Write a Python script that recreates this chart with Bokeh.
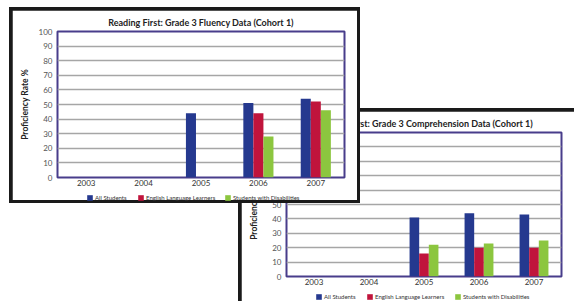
import numpy as np
from bokeh.plotting import figure
from bokeh.models import (ColumnDataSource, Range1d, FixedTicker, Legend,
                          LegendItem, Div)
from bokeh.layouts import column
from bokeh.transform import dodge
from bokeh.embed import file_html
from bokeh.resources import INLINE

nan = float("nan")

# ---- data ----
years = ["2003", "2004", "2005", "2006", "2007"]
series_names = ["All Students", "English Language Learners", "Students with Disabilities"]
series_colors = ["#25398f", "#c0143c", "#8cc63f"]

fluency_title = "Reading First: Grade 3 Fluency Data (Cohort 1)"
fluency_all = [nan, nan, 44, 51, 54]
fluency_ell = [nan, nan, nan, 44, 52]
fluency_swd = [nan, nan, nan, 28, 46]

comp_title = "Reading First: Grade 3 Comprehension Data (Cohort 1)"
comp_all = [nan, nan, 41, 44, 43]
comp_ell = [nan, nan, 16, 20, 20]
comp_swd = [nan, nan, 22, 23, 25]

y_ticks = [0, 10, 20, 30, 40, 50, 60, 70, 80, 90, 100]
y_label = "Proficiency Rate %"

FONT = "Lato"
COLS = ["all", "ell", "swd"]


def abs_style(x, y, w, h, z, extra=None):
    s = {"position": "absolute", "left": f"{x}px", "top": f"{y}px",
         "width": f"{w}px", "height": f"{h}px", "z-index": str(z)}
    if extra:
        s.update(extra)
    return s


def make_source(s_all, s_ell, s_swd):
    return ColumnDataSource(dict(
        year=years,
        all=np.array(s_all, dtype=float),
        ell=np.array(s_ell, dtype=float),
        swd=np.array(s_swd, dtype=float),
    ))


def make_chart(title, src, width, height, borders, pos, z):
    left, right, top, bottom = borders
    p = figure(x_range=years, y_range=Range1d(0, 100), width=width, height=height,
               sizing_mode="fixed",
               toolbar_location=None, output_backend="svg",
               min_border_left=left, min_border_right=right,
               min_border_top=top, min_border_bottom=bottom, margin=0,
               background_fill_color="white", border_fill_color="white",
               styles=abs_style(pos[0], pos[1], width, height, z))
    offsets = [-0.175, 0.0, 0.175]
    for col, off, color in zip(COLS, offsets, series_colors):
        p.vbar(x=dodge("year", off, range=p.x_range), top=col, width=0.175,
               source=src, fill_color=color, line_color=None)

    p.title.text = title
    p.title.align = "center"
    p.title.text_font = FONT
    p.title.text_font_size = "9px"
    p.title.text_font_style = "bold"
    p.title.text_color = "#222222"
    p.title.standoff = 8

    p.outline_line_color = "#483d8b"
    p.outline_line_width = 2
    p.outline_line_alpha = 1

    p.xgrid.grid_line_color = None
    p.ygrid.ticker = FixedTicker(ticks=y_ticks)
    p.ygrid.grid_line_color = "#a6a6a6"
    p.ygrid.grid_line_width = 1.6

    p.yaxis.ticker = FixedTicker(ticks=y_ticks)
    for ax in (p.xaxis[0], p.yaxis[0]):
        ax.axis_line_color = None
        ax.major_tick_line_color = None
        ax.minor_tick_line_color = None
        ax.major_tick_out = 0
        ax.major_tick_in = 0
        ax.minor_tick_out = 0
        ax.minor_tick_in = 0
        ax.major_label_text_font = FONT
        ax.major_label_text_font_size = "8px"
    p.yaxis.major_label_text_color = "#555555"
    p.yaxis.major_label_standoff = 5
    p.xaxis.major_label_text_color = "#333333"
    p.xaxis.major_label_standoff = 2
    p.yaxis.axis_label = y_label
    p.yaxis.axis_label_text_font = FONT
    p.yaxis.axis_label_text_font_size = "8.5px"
    p.yaxis.axis_label_text_font_style = "bold"
    p.yaxis.axis_label_text_color = "#222222"
    p.yaxis.axis_label_standoff = 6
    return p


def make_legend(src, pos, h, offsets, z):
    w = 285
    lp = figure(width=w, height=h, sizing_mode="fixed", toolbar_location=None,
                output_backend="svg", x_range=years, y_range=Range1d(0, 1),
                x_axis_type=None, y_axis_type=None, min_border=0,
                min_border_left=0, min_border_right=0, min_border_top=0,
                min_border_bottom=0, margin=0,
                outline_line_color=None, background_fill_alpha=0, border_fill_alpha=0,
                styles=abs_style(pos[0], pos[1], w, h, z))
    lp.grid.visible = False
    for col, name, color, dx in zip(COLS, series_names, series_colors, offsets):
        r = lp.vbar(x="year", top=col, width=0.1, source=src,
                    fill_color=color, line_color=None, visible=False)
        legend = Legend(items=[LegendItem(label=name, renderers=[r])],
                        orientation="horizontal", location=(dx, 1),
                        glyph_width=7, glyph_height=7, label_standoff=2, spacing=0,
                        padding=0, margin=0, label_height=8, label_width=0,
                        border_line_color=None, background_fill_alpha=0,
                        inactive_fill_alpha=0,
                        label_text_font=FONT, label_text_font_size="6px",
                        label_text_color="#333333")
        lp.add_layout(legend, "center")
    return lp


src2 = make_source(comp_all, comp_ell, comp_swd)
src1 = make_source(fluency_all, fluency_ell, fluency_swd)


def frame_box(x, y, w, h, z):
    return Div(text="", width=w, height=h, margin=0, sizing_mode="fixed",
               styles=abs_style(x, y, w, h, z, {"background-color": "#1a1a1a"}))


box2 = frame_box(238, 108, 336, 193, 0)
p2 = make_chart(comp_title, src2, 333, 190, (45, 2, 19, 25), (241, 111), 1)
leg2 = make_legend(src2, (270, 292), 9, [0, 51, 139], 1)
box1 = frame_box(9, 7, 351, 196, 2)
p1 = make_chart(fluency_title, src1, 345, 190, (45, 13, 18, 23), (12, 10), 3)
leg1 = make_legend(src1, (41, 192), 10, [0, 51, 138], 4)

root = column(box2, p2, leg2, box1, p1, leg1, margin=0,
              styles={"position": "absolute", "left": "0px", "top": "0px",
                      "width": "574px", "height": "301px"})

open("out.html", "w").write(file_html(root, INLINE))
